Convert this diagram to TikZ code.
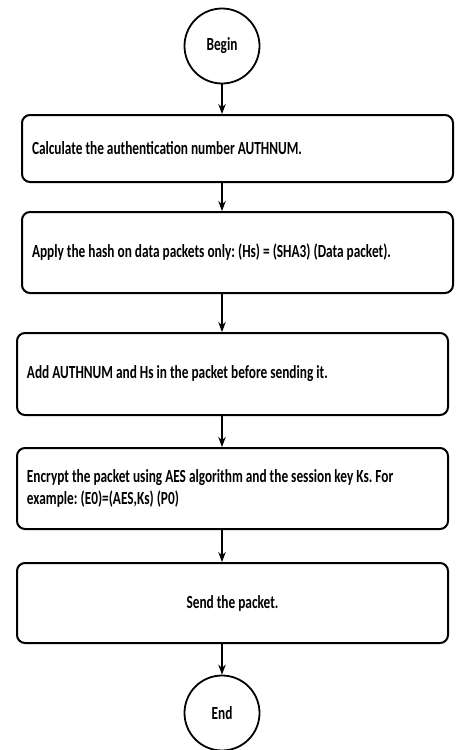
\documentclass[tikz,border=0pt]{standalone}
\usepackage{fontspec}
\setmainfont{Carlito}[FakeStretch=0.72]
\usetikzlibrary{arrows.meta}
\newcommand\boxfontsel{\fontsize{18.5}{21.7}\selectfont\bfseries}
\newcommand\tightsp{\spaceskip=3pt\xspaceskip=3pt\relax}
\tikzset{
  stepbox/.style={draw, line width=2pt, rounded corners=8pt, minimum height=#1, inner xsep=10pt, text width=411pt, align=left, font=\boxfontsel},
  termnode/.style={draw, circle, line width=1.8pt, minimum size=75pt, inner sep=0pt, font=\boxfontsel},
  arr/.style={line width=1.4pt, -{Stealth[length=10pt,width=7.5pt]}}
}
\begin{document}
\frenchspacing
\begin{tikzpicture}[x=1pt,y=-1pt]
\useasboundingbox (0,0) rectangle (460,750);
\node[termnode] (begin) at (222,46) {Begin};
\node[stepbox=67pt] (b1) at (237.5,148.5) {\tightsp Calculate the authentication number AUTHNUM.};
\node[stepbox=81pt] (b2) at (237.5,252.5) {\tightsp Apply the hash on data packets only: (Hs) = (SHA3) (Data packet).};
\node[stepbox=82pt] (b3) at (232.5,374) {\tightsp Add AUTHNUM and Hs in the packet before sending it.};
\node[stepbox=81pt] (b4) at (232.5,488.5) {\tightsp Encrypt the packet using AES algorithm and the session key Ks. For\\\tightsp example: (E0)=(AES,Ks) (P0)};
\node[stepbox=80pt, align=center] (b5) at (232.5,603) {\tightsp Send the packet.};
\node[termnode] (end) at (222,713) {End};
\draw[arr] (begin) -- (begin |- b1.north);
\draw[arr] (begin |- b1.south) -- (begin |- b2.north);
\draw[arr] (begin |- b2.south) -- (begin |- b3.north);
\draw[arr] (begin |- b3.south) -- (begin |- b4.north);
\draw[arr] (begin |- b4.south) -- (begin |- b5.north);
\draw[arr] (begin |- b5.south) -- (end);
\end{tikzpicture}
\end{document}
